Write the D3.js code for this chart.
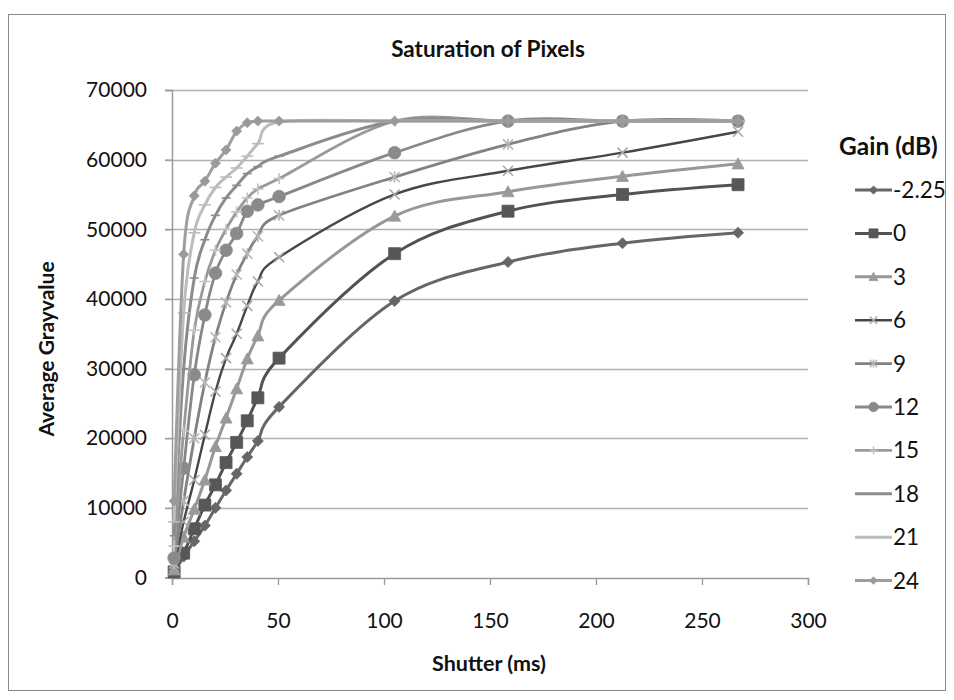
<!DOCTYPE html>
<html><head><meta charset="utf-8">
<script src="https://cdn.jsdelivr.net/npm/d3@7"></script>
<style>body{margin:0;background:#fff}svg{display:block}text{font-family:Lato,"Open Sans",sans-serif;fill:#111}</style>
</head><body><svg id="c" width="954" height="700"></svg>
<script>
const shutter = [1, 5.5, 10.5, 15.5, 20.5, 25.5, 30.5, 35.5, 40.5, 50.5, 105, 158.5, 212.5, 267];
const gainLabels = ["-2.25","0","3","6","9","12","15","18","21","24"];
const gainM225 = [700, 3000, 5200, 7450, 10000, 12500, 14900, 17300, 19600, 24500, 39700, 45300, 48000, 49500];
const gain0  = [800, 3500, 7000, 10400, 13300, 16500, 19400, 22500, 25800, 31500, 46500, 52600, 55000, 56400];
const gain3  = [1100, 5800, 9800, 14000, 18800, 22900, 27100, 31400, 34700, 39800, 51900, 55400, 57600, 59400];
const gain6  = [1500, 8000, 14000, 20500, 26700, 31500, 35000, 39000, 42500, 46000, 55000, 58400, 61000, 64000];
const gain9  = [2000, 11000, 20000, 28000, 34500, 39500, 43500, 46500, 49000, 52000, 57500, 62200, 65535, 65535];
const gain12 = [2800, 15700, 29100, 37700, 43700, 47000, 49400, 52600, 53500, 54700, 61000, 65535, 65535, 65535];
const gain15 = [4500, 21000, 35500, 42500, 47000, 50000, 52500, 54500, 55800, 57300, 65535, 65535, 65535, 65535];
const gain18 = [6000, 30000, 43000, 48500, 52000, 54500, 56300, 58000, 59000, 60500, 65535, 65535, 65535, 65535];
const gain21 = [8000, 38000, 49500, 53500, 56000, 57500, 58800, 60500, 62300, 65400, 65535, 65535, 65535, 65535];
const gain24 = [11000, 46400, 54800, 56900, 59500, 61400, 64100, 65300, 65535, 65535, 65535, 65535, 65535, 65535];
const xTicks = [0, 50, 100, 150, 200, 250, 300];
const yTicks = [0, 10000, 20000, 30000, 40000, 50000, 60000, 70000];

const seriesValues = [gainM225, gain0, gain3, gain6, gain9, gain12, gain15, gain18, gain21, gain24];
const styles = [
  {line:"#666666", w:3, marker:"diamond", mfill:"#666666", ms:5.5},
  {line:"#525252", w:3, marker:"square", mfill:"#575757", ms:6},
  {line:"#979797", w:3, marker:"triangle", mfill:"#999999", ms:6},
  {line:"#474747", w:2.4, marker:"x", mfill:"#a8a8a8", ms:5},
  {line:"#828282", w:2.8, marker:"star", mfill:"#b5b5b5", ms:5},
  {line:"#888888", w:2.8, marker:"circle", mfill:"#8a8a8a", ms:6.3},
  {line:"#9a9a9a", w:2.8, marker:"plus", mfill:"#c2c2c2", ms:5.5},
  {line:"#8c8c8c", w:3, marker:"dash", mfill:"#8c8c8c", ms:4.5},
  {line:"#bcbcbc", w:3, marker:"longdash", mfill:"#bcbcbc", ms:6},
  {line:"#9e9e9e", w:3, marker:"diamond", mfill:"#9a9a9a", ms:5}
];

const svg = d3.select("#c");
svg.append("rect").attr("x",8.5).attr("y",14.5).attr("width",937).attr("height",676)
  .attr("fill","#fff").attr("stroke","#8a8a8a").attr("stroke-width",1);

const x = d3.scaleLinear().domain([0,300]).range([172,808]);
const y = d3.scaleLinear().domain([0,70000]).range([577.5,90]);

svg.append("g").selectAll("line").data(yTicks.filter(d=>d>0)).join("line")
  .attr("x1",165).attr("x2",808).attr("y1",d=>Math.round(y(d))+0.5).attr("y2",d=>Math.round(y(d))+0.5)
  .attr("stroke","#b0b0b0").attr("stroke-width",1.3);

const xAxis = svg.append("g").attr("transform","translate(0,578)")
  .call(d3.axisBottom(x).tickValues(xTicks).tickSize(7).tickPadding(28).tickFormat(d3.format("d")));
const yAxis = svg.append("g").attr("transform","translate(172,0)")
  .call(d3.axisLeft(y).tickValues(yTicks).tickSize(7).tickPadding(18).tickFormat(d3.format("d")));
[xAxis,yAxis].forEach(a=>{
  a.select(".domain").attr("stroke","#9a9a9a").attr("stroke-width",1.5);
  a.selectAll(".tick line").attr("stroke","#9a9a9a").attr("stroke-width",1.3);
  a.selectAll("text").style("font-family","Lato").style("font-size","21px").attr("fill","#111");
});

function markerPath(type, s){
  switch(type){
    case "diamond": return `M0,${-s}L${s},0L0,${s}L${-s},0Z`;
    case "square": return `M${-s},${-s}H${s}V${s}H${-s}Z`;
    case "triangle": return `M0,${-s}L${s},${s*0.85}L${-s},${s*0.85}Z`;
    case "x": return `M${-s},${-s}L${s},${s}M${-s},${s}L${s},${-s}`;
    case "star": return `M${-s},${-s}L${s},${s}M${-s},${s}L${s},${-s}M0,${-s*1.1}V${s*1.1}`;
    case "plus": return `M${-s},0H${s}M0,${-s}V${s}`;
    case "dash": return `M${-s},0H${s}`;
    case "longdash": return `M${-s},0H${s}`;
    case "circle": return d3.symbol(d3.symbolCircle, Math.PI*s*s)();
  }
}
const filled = new Set(["diamond","square","triangle","circle"]);

const line = d3.line().x(d=>x(d[0])).y(d=>y(d[1])).curve(d3.curveCardinal.tension(0));
const plot = svg.append("g");
seriesValues.forEach((vals,i)=>{
  const st = styles[i];
  const pts = shutter.map((s,j)=>[s,vals[j]]);
  const g = plot.append("g");
  g.append("path").datum(pts).attr("d",line).attr("fill","none")
    .attr("stroke",st.line).attr("stroke-width",st.w).attr("stroke-linejoin","round");
  g.selectAll("path.m").data(pts).join("path").attr("class","m")
    .attr("transform",d=>`translate(${x(d[0])},${y(d[1])})`)
    .attr("d",markerPath(st.marker, st.ms))
    .attr("fill",filled.has(st.marker)?st.mfill:"none")
    .attr("stroke",st.mfill).attr("stroke-width",filled.has(st.marker)?0.8:1.6);
});

svg.append("text").attr("x",488).attr("y",57).attr("text-anchor","middle")
  .style("font-weight","bold").style("font-size","22.5px").text("Saturation of Pixels");
svg.append("text").attr("x",489).attr("y",671).attr("text-anchor","middle")
  .style("font-weight","bold").style("font-size","21.5px").text("Shutter (ms)");
svg.append("text").attr("transform","translate(54,349) rotate(-90)").attr("text-anchor","middle")
  .style("font-weight","bold").style("font-size","21px").text("Average Grayvalue");

const lg = svg.append("g");
lg.append("text").attr("x",839).attr("y",155).style("font-weight","bold").style("font-size","24.5px").text("Gain (dB)");
gainLabels.forEach((lab,i)=>{
  const st = styles[i];
  const cy = 190 + i*43.4;
  lg.append("line").attr("x1",855).attr("x2",892).attr("y1",cy).attr("y2",cy)
    .attr("stroke",st.line).attr("stroke-width",st.w);
  lg.append("path").attr("transform",`translate(873.5,${cy})`).attr("d",markerPath(st.marker, st.ms*0.75))
    .attr("fill",filled.has(st.marker)?st.mfill:"none")
    .attr("stroke",st.mfill).attr("stroke-width",filled.has(st.marker)?0.8:1.4);
  lg.append("text").attr("x",893).attr("y",cy+8).style("font-size","22.5px").text(lab);
});
</script></body></html>
